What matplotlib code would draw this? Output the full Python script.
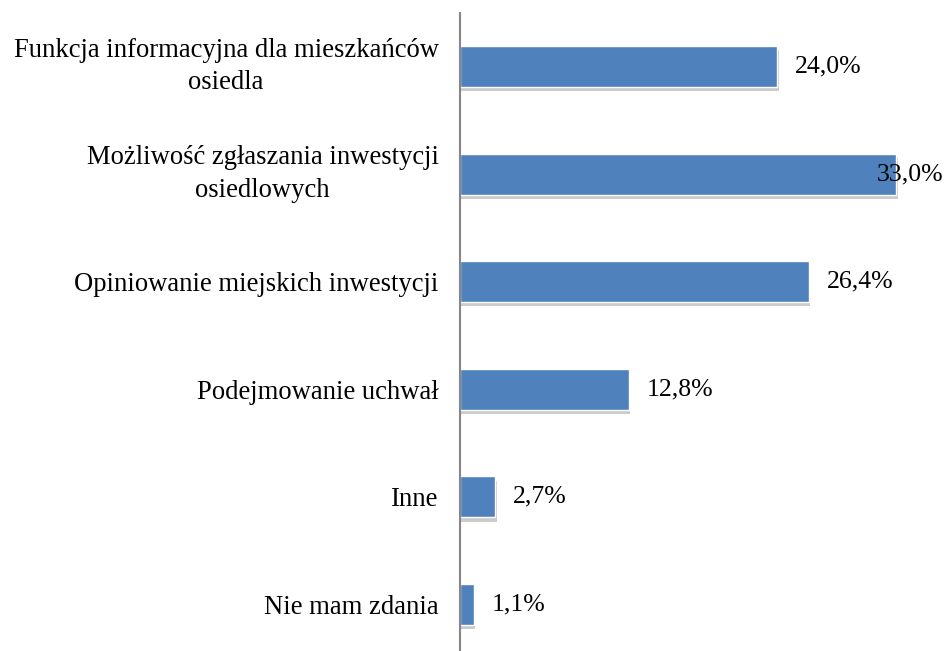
import matplotlib
matplotlib.use("Agg")
import matplotlib.pyplot as plt
import matplotlib.patheffects as pe

categories = [
    "Funkcja informacyjna dla mieszkańców\nosiedla",
    "Możliwość zgłaszania inwestycji\nosiedlowych",
    "Opiniowanie miejskich inwestycji",
    "Podejmowanie uchwał",
    "Inne",
    "Nie mam zdania",
]
values = [24.0, 33.0, 26.4, 12.8, 2.7, 1.1]
value_labels = ["24,0%", "33,0%", "26,4%", "12,8%", "2,7%", "1,1%"]

plt.rcParams['font.family'] = ['Liberation Serif', 'DejaVu Serif']

fig = plt.figure(figsize=(9.46, 6.51), dpi=100)
ax = fig.add_axes([459.5 / 946, 1 - 658.3 / 651, 476.6 / 946, 645.6 / 651])

ypos = list(range(len(categories)))
bars = ax.barh(ypos, values, height=0.38, color='#4F81BD', edgecolor='white',
               linewidth=1.0, zorder=3)
for b in bars:
    b.set_path_effects([
        pe.SimplePatchShadow(offset=(1, -3), shadow_rgbFace='#7f7f7f', alpha=0.4),
        pe.Normal(),
    ])

ax.set_xlim(0, 36)
ax.set_ylim(len(categories) - 0.5, -0.5)
ax.set_yticks(ypos)
ax.set_yticklabels(categories, fontsize=19.2, multialignment='center',
                   linespacing=1.38)
for t in ax.get_yticklabels():
    if "\n" in t.get_text():
        t.set_verticalalignment('center')
ax.tick_params(axis='y', length=0, pad=15)
ax.set_xticks([])

for s in ['top', 'right', 'bottom']:
    ax.spines[s].set_visible(False)
ax.spines['left'].set_color('#868686')
ax.spines['left'].set_linewidth(1.5)
ax.spines['left'].set_zorder(4)

for y, v, lab in zip(ypos, values, value_labels):
    ax.text(min(v + 1.35, 31.5), y, lab, va='center', ha='left', fontsize=18.5,
            color='black', zorder=5)

fig.savefig("out.png", dpi=100)
